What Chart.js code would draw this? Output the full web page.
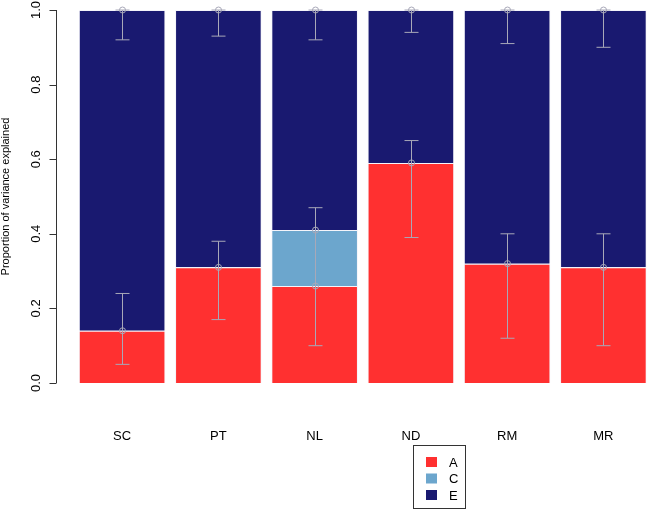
<!DOCTYPE html>
<html>
<head>
<meta charset="utf-8">
<script src="https://cdn.jsdelivr.net/npm/chart.js@4"></script>
<style>
  html, body { margin: 0; padding: 0; background: #fff; overflow: hidden; }
  #wrap { width: 660px; height: 514px; }
</style>
</head>
<body>
<div id="wrap"><canvas id="varChart" width="660" height="514"></canvas></div>
<script>
// categories and stacked shares
const categories = ['SC', 'PT', 'NL', 'ND', 'RM', 'MR'];
const shareA = [0.14, 0.31, 0.26, 0.59, 0.32, 0.31];
const shareC = [0, 0, 0.15, 0, 0, 0];
const shareE = [0.86, 0.69, 0.59, 0.41, 0.68, 0.69];

// error bars (cumulative positions)
const errALow = [0.05, 0.17, 0.10, 0.39, 0.12, 0.10];
const errAHigh = [0.24, 0.38, 0.47, 0.65, 0.40, 0.40];
const errELow = [0.92, 0.93, 0.92, 0.94, 0.91, 0.90];
const errEHigh = [1.0, 1.0, 1.0, 1.0, 1.0, 1.0];

const yTicks = [0, 0.2, 0.4, 0.6, 0.8, 1.0];
const legendLabels = ['A', 'C', 'E'];
const colors = ['#ff3030', '#6ca6cd', '#191970'];

const rDecor = {
    id: 'rDecor',
    afterDatasetsDraw(chart) {
        const ctx = chart.ctx;
        const x = chart.scales.x;
        const y = chart.scales.y;

        // error bars
        ctx.save();
        ctx.strokeStyle = '#a8a8b8';
        ctx.lineWidth = 1;
        const bar = (i, lo, hi) => {
            const cx = Math.round(x.getPixelForValue(i)) + 0.5;
            const y1 = y.getPixelForValue(lo), y2 = y.getPixelForValue(hi);
            ctx.beginPath();
            ctx.moveTo(cx, y1); ctx.lineTo(cx, y2);
            ctx.moveTo(cx - 7, y1); ctx.lineTo(cx + 7, y1);
            ctx.moveTo(cx - 7, y2); ctx.lineTo(cx + 7, y2);
            ctx.stroke();
        };
        const dot = (i, v) => {
            const cx = Math.round(x.getPixelForValue(i)) + 0.5;
            ctx.beginPath();
            ctx.arc(cx, y.getPixelForValue(v), 3, 0, Math.PI * 2);
            ctx.stroke();
        };
        categories.forEach((c, i) => {
            bar(i, errALow[i], errAHigh[i]);
            bar(i, errELow[i], errEHigh[i]);
            dot(i, shareA[i]);
            if (shareC[i] > 0) dot(i, shareA[i] + shareC[i]);
            dot(i, 1.0);
        });
        ctx.restore();

        // y axis R style
        ctx.save();
        ctx.strokeStyle = '#333';
        ctx.lineWidth = 1;
        const ax = 56.5;
        ctx.beginPath();
        ctx.moveTo(ax, y.getPixelForValue(0));
        ctx.lineTo(ax, y.getPixelForValue(1));
        yTicks.forEach(t => {
            const py = Math.round(y.getPixelForValue(t)) + 0.5;
            ctx.moveTo(ax, py); ctx.lineTo(ax - 7, py);
        });
        ctx.stroke();
        ctx.fillStyle = '#000';
        ctx.font = '13px "Liberation Sans", Arial, sans-serif';
        ctx.textAlign = 'center';
        ctx.textBaseline = 'middle';
        yTicks.forEach(t => {
            ctx.save();
            ctx.translate(36, y.getPixelForValue(t));
            ctx.rotate(-Math.PI / 2);
            ctx.fillText(t.toFixed(1), 0, 0);
            ctx.restore();
        });
        ctx.font = '11px "Liberation Sans", Arial, sans-serif';
        ctx.save();
        ctx.translate(6, (y.getPixelForValue(0) + y.getPixelForValue(1)) / 2);
        ctx.rotate(-Math.PI / 2);
        ctx.fillText('Proportion of variance explained', 0, 0);
        ctx.restore();
        ctx.restore();

        // legend box
        ctx.save();
        ctx.strokeStyle = '#333';
        ctx.strokeRect(413.5, 445.5, 52, 63);
        ctx.font = '13px "Liberation Sans", Arial, sans-serif';
        ctx.textBaseline = 'middle';
        ctx.textAlign = 'left';
        legendLabels.forEach((lab, i) => {
            const ly = 462 + i * 16.5;
            ctx.fillStyle = colors[i];
            ctx.fillRect(426, ly - 5, 11, 10);
            ctx.fillStyle = '#000';
            ctx.fillText(lab, 449, ly + 1);
        });
        ctx.restore();
    }
};

const ctx = document.getElementById('varChart').getContext('2d');
const varChart = new Chart(ctx, {
    type: 'bar',
    data: {
        labels: categories,
        datasets: [
            { label: 'A', data: shareA, backgroundColor: colors[0] },
            { label: 'C', data: shareC, backgroundColor: colors[1] },
            { label: 'E', data: shareE, backgroundColor: colors[2] }
        ].map(d => Object.assign(d, {
            borderColor: '#f4f4fa',
            borderWidth: 1,
            barPercentage: 0.9,
            categoryPercentage: 1.0
        }))
    },
    options: {
        responsive: false,
        animation: false,
        layout: { padding: { left: 74, right: 6, top: 10, bottom: 0 } },
        plugins: { legend: { display: false }, tooltip: { enabled: false } },
        scales: {
            x: {
                stacked: true,
                grid: { display: false, drawTicks: false },
                border: { display: false },
                ticks: {
                    color: '#000',
                    padding: 46,
                    font: { family: '"Liberation Sans", Arial, sans-serif', size: 13 }
                },
                afterFit: s => { s.height = 131; }
            },
            y: {
                stacked: true,
                display: false,
                min: 0,
                max: 1
            }
        }
    },
    plugins: [rDecor]
});
</script>
</body>
</html>
